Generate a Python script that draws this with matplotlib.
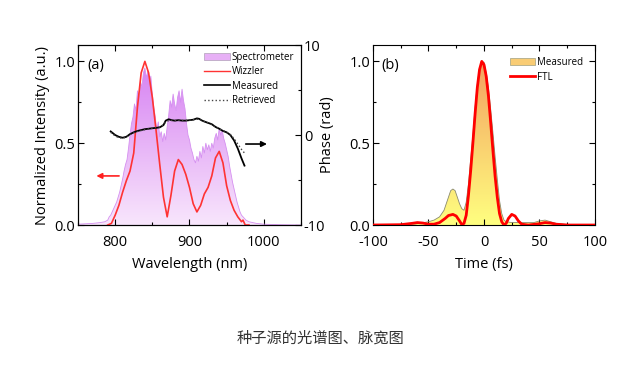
import numpy as np
import matplotlib
matplotlib.use('Agg')
import matplotlib.pyplot as plt
from matplotlib.colors import LinearSegmentedColormap
from matplotlib.patches import Patch
from matplotlib.lines import Line2D

plt.rcParams['font.family'] = ['Open Sans', 'DejaVu Sans']
plt.rcParams['axes.unicode_minus'] = False

# ---- panel (a): spectrum ----
spec_wl = [750, 770, 780, 786, 790, 792, 794, 796, 798, 800, 802, 804, 806, 808, 810,
           812, 814, 816, 818, 820, 822, 824, 826, 828, 830, 832, 834, 836, 838, 840,
           842, 844, 846, 848, 850, 852, 854, 856, 858, 860, 862, 864, 866, 868, 870,
           872, 874, 876, 878, 880, 882, 884, 886, 888, 890, 892, 894, 896, 898, 900,
           902, 904, 906, 908, 910, 912, 914, 916, 918, 920, 922, 924, 926, 928, 930,
           932, 934, 936, 938, 940, 942, 944, 946, 948, 950, 952, 954, 956, 958, 960,
           962, 964, 966, 968, 970, 972, 974, 976, 978, 980, 990, 1000, 1020, 1050]
spec_int = [0.005, 0.01, 0.015, 0.02, 0.03, 0.05, 0.06, 0.08, 0.10, 0.12, 0.14, 0.17, 0.20, 0.24, 0.28,
            0.33, 0.37, 0.40, 0.47, 0.55, 0.62, 0.66, 0.74, 0.70, 0.82, 0.78, 0.88, 0.84, 0.93, 0.96,
            0.90, 0.94, 0.86, 0.91, 0.80, 0.72, 0.66, 0.58, 0.63, 0.54, 0.57, 0.51, 0.56, 0.52, 0.60,
            0.67, 0.76, 0.72, 0.80, 0.74, 0.70, 0.78, 0.82, 0.75, 0.83, 0.76, 0.71, 0.62, 0.55, 0.52,
            0.47, 0.44, 0.40, 0.38, 0.42, 0.39, 0.45, 0.41, 0.48, 0.44, 0.50, 0.46, 0.49, 0.45, 0.50,
            0.47, 0.53, 0.56, 0.52, 0.59, 0.55, 0.58, 0.53, 0.50, 0.46, 0.42, 0.36, 0.31, 0.26, 0.22,
            0.18, 0.14, 0.11, 0.08, 0.06, 0.05, 0.04, 0.03, 0.025, 0.02, 0.01, 0.005, 0.002, 0.0]

wiz_wl = [790, 795, 800, 805, 810, 815, 820, 825, 830, 835, 840, 845, 850, 855, 860, 865,
          870, 875, 880, 885, 890, 895, 900, 905, 910, 915, 920, 925, 930, 935, 940, 945,
          950, 955, 960, 965, 970, 972, 975, 980]
wiz_int = [0.0, 0.01, 0.06, 0.12, 0.20, 0.27, 0.33, 0.44, 0.72, 0.93, 1.0, 0.93, 0.78, 0.58, 0.37, 0.17,
           0.05, 0.18, 0.33, 0.40, 0.37, 0.31, 0.23, 0.13, 0.08, 0.12, 0.19, 0.23, 0.30, 0.41, 0.45, 0.38,
           0.24, 0.15, 0.09, 0.05, 0.02, 0.03, 0.0, 0.0]

ph_wl = [794, 800, 805, 810, 815, 820, 825, 830, 835, 840, 845, 850, 855, 860, 865, 868,
         872, 876, 880, 885, 890, 895, 900, 905, 910, 913, 917, 920, 925, 930, 935, 940,
         945, 950, 955, 960, 965, 970, 974]
ph_meas = [0.4, 0.0, -0.2, -0.3, -0.2, 0.1, 0.3, 0.45, 0.55, 0.65, 0.7, 0.75, 0.8, 0.85, 1.1, 1.6,
           1.75, 1.65, 1.6, 1.65, 1.6, 1.6, 1.65, 1.7, 1.85, 1.8, 1.6, 1.5, 1.35, 1.2, 0.9, 0.7,
           0.45, 0.3, 0.0, -0.6, -1.5, -2.6, -3.4]
ph_retr = [0.3, -0.1, -0.3, -0.35, -0.25, 0.05, 0.25, 0.4, 0.5, 0.6, 0.68, 0.75, 0.82, 0.9, 1.15, 1.45,
           1.6, 1.62, 1.6, 1.62, 1.62, 1.62, 1.65, 1.7, 1.75, 1.75, 1.6, 1.5, 1.35, 1.15, 0.9, 0.7,
           0.5, 0.3, 0.05, -0.4, -1.0, -1.6, -2.0]

# ---- panel (b): pulse ----
t_meas = [-100, -80, -70, -60, -50, -45, -40, -36, -34, -32, -30, -28, -26, -24, -22, -20,
          -18, -16, -14, -12, -10, -8, -6, -4, -2, 0, 2, 4, 6, 8, 10, 12, 14, 16, 18, 20,
          25, 30, 40, 45, 50, 55, 60, 65, 75, 100]
i_meas = [0.0, 0.0, 0.003, 0.008, 0.02, 0.03, 0.05, 0.09, 0.13, 0.17, 0.21, 0.22, 0.21, 0.17, 0.13, 0.10,
          0.09, 0.14, 0.25, 0.40, 0.55, 0.72, 0.86, 0.96, 0.995, 0.995, 0.93, 0.84, 0.71, 0.57, 0.42, 0.28,
          0.15, 0.07, 0.03, 0.02, 0.015, 0.015, 0.015, 0.015, 0.025, 0.03, 0.02, 0.01, 0.003, 0.0]

t_ftl = [-100, -75, -65, -60, -55, -50, -45, -40, -35, -32, -28, -25, -22, -20, -18, -16,
         -14, -12, -10, -8, -6, -4, -2, 0, 2, 4, 6, 8, 10, 12, 14, 16, 18, 20, 22, 25,
         28, 31, 34, 40, 50, 55, 60, 65, 75, 100]
i_ftl = [0.0, 0.002, 0.01, 0.015, 0.012, 0.005, 0.005, 0.015, 0.04, 0.058, 0.065, 0.055, 0.025, 0.003, 0.01, 0.06,
         0.18, 0.33, 0.50, 0.68, 0.84, 0.95, 1.0, 0.98, 0.91, 0.79, 0.63, 0.46, 0.30, 0.17, 0.07, 0.02,
         0.0, 0.01, 0.04, 0.065, 0.055, 0.025, 0.005, 0.0, 0.008, 0.015, 0.012, 0.005, 0.0, 0.0]


def gradient_fill(ax, x, y, c_bottom, c_top, ytop):
    x = np.asarray(x)
    poly = ax.fill_between(x, y, 0, facecolor='none', edgecolor='none')
    cmap = LinearSegmentedColormap.from_list('g', [c_bottom, c_top])
    grad = np.linspace(0, 1, 256).reshape(-1, 1)
    im = ax.imshow(grad, extent=[x.min(), x.max(), 0, ytop], origin='lower',
                   aspect='auto', cmap=cmap, zorder=1)
    im.set_clip_path(poly.get_paths()[0], transform=ax.transData)


def style_ticks(ax):
    ax.tick_params(which='both', direction='in', top=True, labelsize=10.5, width=0.8)
    ax.tick_params(which='major', length=4)
    ax.tick_params(which='minor', length=2)
    ax.tick_params(axis='x', pad=7)
    ax.tick_params(axis='y', pad=2)
    for s in ax.spines.values():
        s.set_linewidth(0.8)


fig = plt.figure(figsize=(6.17, 3.66), dpi=100)

# (a)
ax1 = fig.add_axes([0.1264, 0.3852, 0.3614, 0.4918])
gradient_fill(ax1, spec_wl, spec_int, '#f8e6fc', '#d680f2', 1.0)
ax1.plot(spec_wl, spec_int, color='#d590f0', lw=0.6, zorder=2)
ax1.plot(wiz_wl, wiz_int, color='#ff3333', lw=1.2, zorder=3)
ax1.set_xlim(750, 1050)
ax1.set_ylim(0, 1.1)
ax1.set_xticks([800, 900, 1000])
ax1.set_xticks([750, 850, 950, 1050], minor=True)
ax1.set_yticks([0.0, 0.5, 1.0])
ax1.set_yticks([0.25, 0.75], minor=True)
style_ticks(ax1)
ax1.tick_params(which='both', right=False)
ax1.set_xlabel('Wavelength (nm)', fontsize=10.5, labelpad=5)
ax1.set_ylabel('Normalized Intensity (a.u.)', fontsize=10.5, labelpad=3)
ax1.text(0.04, 0.93, '(a)', transform=ax1.transAxes, fontsize=10.5, va='top')
ax1.annotate('', xy=(771, 0.30), xytext=(809, 0.30),
             arrowprops=dict(arrowstyle='-|>', color='#ff2020', lw=1.2, mutation_scale=8))

ax2 = ax1.twinx()
ax2.plot(ph_wl, ph_meas, color='black', lw=1.3)
ax2.plot(ph_wl, ph_retr, color='#444444', lw=1.0, ls=':')
ax2.set_ylim(-10, 10)
ax2.set_yticks([-10, 0, 10])
ax2.set_yticks([-5, 5], minor=True)
ax2.tick_params(which='both', direction='in', labelsize=10.5, width=0.8, pad=2)
ax2.tick_params(which='major', length=4)
ax2.tick_params(which='minor', length=2)
ax2.set_ylabel('Phase (rad)', fontsize=10.5, labelpad=-4)
ax2.annotate('', xy=(1008, -1.0), xytext=(972, -1.0),
             arrowprops=dict(arrowstyle='-|>', color='black', lw=1.2, mutation_scale=8))

leg_a = [Patch(facecolor='#e7b0f6', edgecolor='#b0a0b8', lw=0.5, label='Spectrometer'),
         Line2D([], [], color='#ff3333', lw=1.0, label='Wizzler'),
         Line2D([], [], color='black', lw=1.2, label='Measured'),
         Line2D([], [], color='#444444', lw=1.0, ls=':', label='Retrieved')]
ax2.legend(handles=leg_a, loc='upper right', bbox_to_anchor=(1.0, 1.0), frameon=False,
           fontsize=7, handlelength=2.6, handletextpad=0.2, labelspacing=0.35,
           borderaxespad=0.3)

# (b)
ax3 = fig.add_axes([0.6045, 0.3852, 0.3598, 0.4918])
gradient_fill(ax3, t_meas, i_meas, '#ffff80', '#f4a060', 1.0)
ax3.plot(t_meas, i_meas, color='#8a8a70', lw=0.6, zorder=2)
ax3.plot(t_ftl, i_ftl, color='#ff0000', lw=2.0, zorder=3)
ax3.set_xlim(-100, 100)
ax3.set_ylim(0, 1.1)
ax3.set_xticks([-100, -50, 0, 50, 100])
ax3.set_xticks([-75, -25, 25, 75], minor=True)
ax3.set_yticks([0.0, 0.5, 1.0])
ax3.set_yticks([0.25, 0.75], minor=True)
style_ticks(ax3)
ax3.tick_params(which='both', right=True)
ax3.set_xlabel('Time (fs)', fontsize=10.5, labelpad=5)
ax3.text(0.04, 0.93, '(b)', transform=ax3.transAxes, fontsize=10.5, va='top')
leg_b = [Patch(facecolor='#f9cc74', edgecolor='#a0a080', lw=0.5, label='Measured'),
         Line2D([], [], color='#ff0000', lw=2.0, label='FTL')]
ax3.legend(handles=leg_b, loc='upper right', frameon=False, fontsize=7,
           handlelength=2.6, handletextpad=0.2, labelspacing=0.4, borderaxespad=0.8)

fig.text(0.519, 0.076, '种子源的光谱图、脉宽图', ha='center', va='center', fontsize=11,
         color='#333333', family=['Noto Sans CJK SC', 'DejaVu Sans'])

fig.savefig('out.png', dpi=100)
